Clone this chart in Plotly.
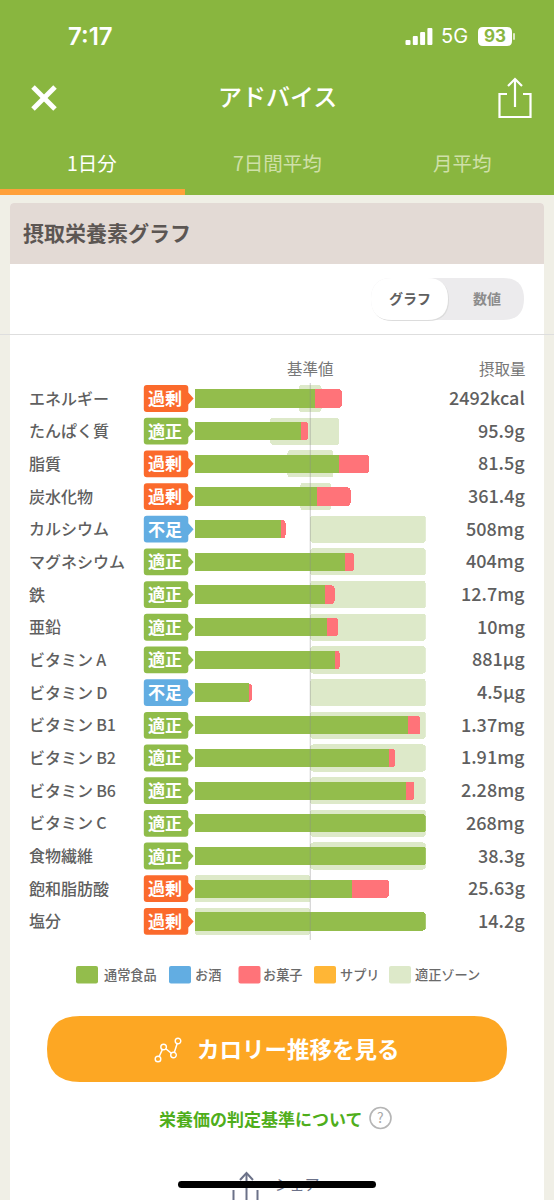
import plotly.graph_objects as go

W = 554
H = 1200
JP = "Noto Sans CJK JP"

NUTRIENTS = ["エネルギー", "たんぱく質", "脂質", "炭水化物", "カルシウム", "マグネシウム", "鉄", "亜鉛",
             "ビタミン\u2009A", "ビタミン\u2009D", "ビタミン\u2009B1", "ビタミン\u2009B2", "ビタミン\u2009B6", "ビタミン\u2009C",
             "食物繊維", "飽和脂肪酸", "塩分"]
STATUS = ["過剰", "適正", "過剰", "過剰", "不足", "適正", "適正", "適正",
          "適正", "不足", "適正", "適正", "適正", "適正", "適正", "過剰", "過剰"]
AMOUNTS = ["2492kcal", "95.9g", "81.5g", "361.4g", "508mg", "404mg", "12.7mg", "10mg",
           "881µg", "4.5µg", "1.37mg", "1.91mg", "2.28mg", "268mg", "38.3g", "25.63g", "14.2g"]

# percent of the reference value
NORMAL_FOOD = [104.3, 92, 124.5, 105.5, 74.6, 130, 112.8, 114.4, 121, 46.8, 184.7, 168, 183, 200, 200, 136.4, 200]
SNACKS = [22.9, 6.2, 26.5, 29.4, 4, 8, 8.2, 9.6, 4.4, 2.7, 10.7, 5.4, 7, 0, 0, 31.6, 0]
ZONE_LOW = [90, 65.4, 80.3, 91.4, 100, 100, 100, 100, 100, 100, 100, 100, 100, 100, 100, 0, 0]
ZONE_HIGH = [109.8, 125, 120, 118, 200, 200, 200, 200, 200, 200, 200, 200, 200, 200, 200, 100, 100]
REFERENCE = 100

TABS = ["1日分", "7日間平均", "月平均"]
LEGEND_NAMES = ["通常食品", "お酒", "お菓子", "サプリ", "適正ゾーン"]

GREEN_HEAD = "#89b63f"
GREEN_BAR = "#93bd4c"
PINK = "#ff7379"
BLUE = "#62ade2"
YELLOW = "#ffb636"
ZONE = "#dde9c9"
ORANGE_BADGE = "#fb6a2c"
TEXT = "#5f5f5f"
LEGEND_COLORS = [GREEN_BAR, BLUE, PINK, YELLOW, ZONE]
BADGE_COLORS = {"過剰": ORANGE_BADGE, "適正": "#8fbc4a", "不足": BLUE}

ROW0 = 398.5
PITCH = 32.68
BAR_LEFT = 194.7
BAR_RIGHT = 425.8


def px(x):
    return x / W


def py(y):
    return 1 - y / H


def rect(x0, y0, x1, y1, color, layer="below"):
    return dict(type="rect", xref="paper", yref="paper", x0=px(x0), x1=px(x1), y0=py(y0), y1=py(y1),
                fillcolor=color, line_width=0, layer=layer)


def pt(x, y):
    return f"{px(x):.5f},{py(y):.5f}"


def round_path(x0, y0, x1, y1, r, tip=None):
    p = f"M{pt(x0 + r, y0)} L{pt(x1 - r, y0)} Q{pt(x1, y0)} {pt(x1, y0 + r)} "
    if tip:
        cy = (y0 + y1) / 2
        p += f"L{pt(x1, cy - 6)} L{pt(tip, cy)} L{pt(x1, cy + 6)} "
    p += f"L{pt(x1, y1 - r)} Q{pt(x1, y1)} {pt(x1 - r, y1)} L{pt(x0 + r, y1)} Q{pt(x0, y1)} {pt(x0, y1 - r)} "
    p += f"L{pt(x0, y0 + r)} Q{pt(x0, y0)} {pt(x0 + r, y0)} Z"
    return p


def rounded(x0, y0, x1, y1, r, color, tip=None, layer="below", line=None, lw=0):
    return dict(type="path", xref="paper", yref="paper", path=round_path(x0, y0, x1, y1, r, tip),
                fillcolor=color, line=dict(color=line or color, width=lw), layer=layer)


def stroke(points, color, width, layer="above"):
    p = "M" + " L".join(pt(x, y) for x, y in points)
    return dict(type="path", xref="paper", yref="paper", path=p, line=dict(color=color, width=width), layer=layer)


def circle(cx, cy, r, fill, line, lw, layer="above"):
    return dict(type="circle", xref="paper", yref="paper", x0=px(cx - r), x1=px(cx + r), y0=py(cy + r), y1=py(cy - r),
                fillcolor=fill, line=dict(color=line, width=lw), layer=layer)


def label(x, y, text, size, color=TEXT, anchor="center", weight=400, family=JP):
    return dict(xref="paper", yref="paper", x=px(x), y=py(y), text=text, showarrow=False, xanchor=anchor,
                yanchor="middle", yshift=1, font=dict(family=family, size=size, color=color, weight=weight))


fig = go.Figure()

# zones sit on the first axes so they stay under the bars
fig.add_trace(go.Bar(y=NUTRIENTS, x=[h - l for l, h in zip(ZONE_LOW, ZONE_HIGH)], base=ZONE_LOW, orientation="h",
                     marker=dict(color=ZONE, line_width=0), width=0.83, xaxis="x", yaxis="y", name="適正ゾーン"))
fig.add_trace(go.Bar(y=NUTRIENTS, x=NORMAL_FOOD, orientation="h", marker=dict(color=GREEN_BAR, line_width=0),
                     width=0.56, xaxis="x2", yaxis="y2", name="通常食品"))
fig.add_trace(go.Bar(y=NUTRIENTS, x=SNACKS, orientation="h", marker=dict(color=PINK, line_width=0),
                     width=0.56, xaxis="x2", yaxis="y2", name="お菓子"))
# sits under the upper shapes, the home indicator runs across it
fig.add_trace(go.Scatter(x=[297], y=[1186], text=["シェア"], mode="text", xaxis="x3", yaxis="y3",
                         textfont=dict(family=JP, size=15, color="#6b7188")))

shapes = [
    rect(0, 0, W, 195, GREEN_HEAD),
    rect(0, 189, 185, 195, "#ffa03a"),
    rect(0, 195, W, H, "#f0efe6"),
    rounded(10, 203, 544, 1300, 4, "#ffffff"),
    rounded(10, 203, 544, 270, 4, "#e3dad5"),
    rect(10, 264, 544, 272, "#ffffff"),
    rounded(371, 278, 524, 320, 21, "#ecebed"),
    rounded(372, 279, 449, 321, 21, "#dcdcdc"),
    rounded(371, 278, 448, 320, 21, "#ffffff"),
    rect(0, 334, W, 335, "#dedede"),
    # status bar
    rounded(478, 27, 512, 46, 5, "#ffffff"),
    rounded(513, 33, 515, 40, 1, "#dfe8c8"),
    # close icon
    stroke([(33, 87), (55, 109)], "#ffffff", 5),
    stroke([(55, 87), (33, 109)], "#ffffff", 5),
    # share icon
    stroke([(507, 94), (499.5, 94), (499.5, 117), (530.5, 117), (530.5, 94), (523, 94)], "#ffffff", 2.2),
    stroke([(515, 79), (515, 107)], "#ffffff", 2.2),
    stroke([(508, 86), (515, 79), (522, 86)], "#ffffff", 2.2),
    # button
    rounded(47, 1016, 507, 1082, 33, "#fda723"),
    stroke([(158, 1059), (163.6, 1047), (173.5, 1055), (178, 1041)], "#ffffff", 1.5),
    circle(158, 1059, 2.8, "#fda723", "#ffffff", 1.4),
    circle(163.6, 1047, 2.8, "#fda723", "#ffffff", 1.4),
    circle(173.5, 1055, 2.8, "#fda723", "#ffffff", 1.4),
    circle(178, 1041, 2.8, "#fda723", "#ffffff", 1.4),
    circle(380.5, 1118, 10.5, "#ffffff", "#b5b5b5", 1.6),
    # bottom share icon
    stroke([(246.5, 1173), (246.5, 1200)], "#6b7188", 2),
    stroke([(240, 1180), (246.5, 1173), (253, 1180)], "#6b7188", 2),
    stroke([(233.5, 1190), (233.5, 1200)], "#6b7188", 2),
    stroke([(257.5, 1190), (257.5, 1200)], "#6b7188", 2),
    # base value line
    dict(type="line", xref="x2", yref="paper", x0=REFERENCE, x1=REFERENCE, y0=py(383), y1=py(940),
         line=dict(color="rgba(140,140,140,0.45)", width=1), layer="above"),
    # home indicator
    rounded(178, 1181, 376, 1188, 3.5, "#000000", layer="above"),
]

# signal bars
for i, top in enumerate([40, 36, 32, 28]):
    shapes.append(rounded(405.5 + i * 7.3, top, 410.5 + i * 7.3, 45, 1, "#ffffff", layer="above"))

annotations = [
    label(90, 37, "7:17", 24, "#ffffff", weight=600, family="Inter"),
    label(439, 37, "5G", 20, "#ffffff", "left", family="Inter"),
    label(495, 37, "93", 17, GREEN_HEAD, weight=700, family="Inter"),
    label(277, 97, "アドバイス", 24, "#ffffff", weight=500),
    label(92, 163, TABS[0], 19.5, "#ffffff"),
    label(277, 163, TABS[1], 19.5, "#cfe0a8"),
    label(462, 163, TABS[2], 19.5, "#cfe0a8"),
    label(21, 233, "摂取栄養素グラフ", 21, "#5c5653", "left", 700),
    label(410, 299, "グラフ", 14, "#5f5f5f", weight=700),
    label(487, 299, "数値", 14, "#8c8c8c", weight=700),
    label(310, 369, "基準値", 15.5, "#777777"),
    label(528, 369, "摂取量", 15.5, "#777777", "right"),
    label(298, 1049, "カロリー推移を見る", 22.5, "#ffffff", weight=700),
    label(261, 1119, "栄養価の判定基準について", 17, "#4fae1b", weight=700),
    label(380.5, 1118, "?", 14, "#a8a8a8"),
]

for i, (name, status, amount) in enumerate(zip(NUTRIENTS, STATUS, AMOUNTS)):
    cy = ROW0 + i * PITCH
    shapes.append(rounded(143.8, cy - 13.4, 188.3, cy + 13.4, 3, BADGE_COLORS[status], tip=193.6))
    annotations.append(dict(xref="paper", yref="y2", x=px(27), y=name, text=name, showarrow=False, xanchor="left",
                            yanchor="middle", yshift=1, font=dict(family=JP, size=16, color=TEXT, weight=500)))
    annotations.append(dict(xref="paper", yref="y2", x=px(165), y=name, text=status, showarrow=False, xanchor="center",
                            yanchor="middle", yshift=1, font=dict(family=JP, size=17, color="#ffffff", weight=700)))
    annotations.append(dict(xref="paper", yref="y2", x=px(527), y=name, text=amount, showarrow=False, xanchor="right",
                            yanchor="middle", yshift=1.5, font=dict(family=JP, size=18, color=TEXT, weight=500)))

swatch_left = [76, 169, 238.5, 314, 389]
label_left = [102, 193, 261, 338, 413]
for name, color, sx, lx in zip(LEGEND_NAMES, LEGEND_COLORS, swatch_left, label_left):
    shapes.append(rounded(sx, 966, sx + 22, 983.5, 2, color))
    annotations.append(label(lx, 975, name, 13.2, "#6a6a6a", "left", 500))

# rows fill the axis range, so the domain is the first row top to the last row bottom
y_top = ROW0 - PITCH / 2
y_bottom = ROW0 + 16 * PITCH + PITCH / 2
x_domain = [px(BAR_LEFT), px(BAR_RIGHT)]
y_domain = [py(y_bottom), py(y_top)]
value_axis = dict(domain=x_domain, range=[0, 200], visible=False, fixedrange=True)
row_axis = dict(domain=y_domain, type="category", categoryorder="array", categoryarray=NUTRIENTS,
                range=[16.5, -0.5], visible=False, fixedrange=True)

fig.update_layout(
    width=W,
    height=H,
    margin=dict(l=0, r=0, t=0, b=0),
    paper_bgcolor="#ffffff",
    plot_bgcolor="rgba(0,0,0,0)",
    barmode="stack",
    barcornerradius=3,
    showlegend=False,
    hovermode=False,
    xaxis=dict(value_axis, anchor="y"),
    yaxis=dict(row_axis, anchor="x"),
    xaxis2=dict(value_axis, anchor="y2"),
    yaxis2=dict(row_axis, anchor="x2"),
    xaxis3=dict(domain=[0, 1], range=[0, W], visible=False, anchor="y3"),
    yaxis3=dict(domain=[0, 1], range=[H, 0], visible=False, anchor="x3"),
    shapes=shapes,
    annotations=annotations,
)

fig.write_html("out.html", config=dict(displayModeBar=False),
               post_script="document.body.style.margin='0';document.documentElement.style.overflow='hidden';")
